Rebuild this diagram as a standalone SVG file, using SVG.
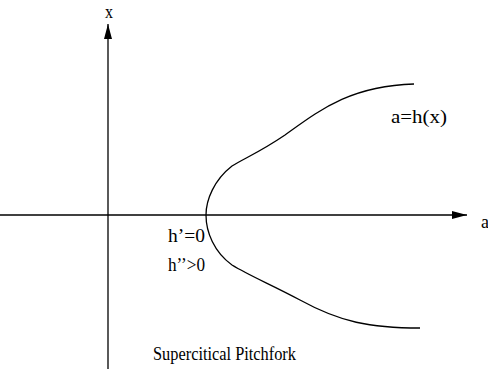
<svg xmlns="http://www.w3.org/2000/svg" width="488" height="369" viewBox="0 0 488 369">
<style>
text{font-family:"Liberation Serif","Times New Roman",serif;font-size:18px;fill:#000}
.ln{stroke:#000;stroke-width:1.3;fill:none}
</style>
<defs>
<marker id="ah" markerWidth="15" markerHeight="8" refX="15" refY="4" orient="auto" markerUnits="userSpaceOnUse">
<path d="M0,0 L15,4 L0,8 Z" fill="#000"/>
</marker>
</defs>
<g id="connectors">
<line class="ln" x1="0" y1="215" x2="467" y2="215" marker-end="url(#ah)"/>
<line class="ln" x1="108" y1="369" x2="108" y2="24" marker-end="url(#ah)"/>
</g>
<g id="curve">
<path class="ln" stroke-width="1.5" d="M414,84 C350,86 320,110 285,135 C260,152 245,158 232,166 C214,180 206,200 206,215 C206,232 214,252 232,265 C250,276 270,284 300,300 C340,322 370,328 420,328"/>
</g>
<g id="labels">
<text x="105" y="18" textLength="8" lengthAdjust="spacingAndGlyphs">x</text>
<text x="481" y="228" textLength="8" lengthAdjust="spacingAndGlyphs">a</text>
<text x="391" y="123" textLength="56" lengthAdjust="spacingAndGlyphs">a=h(x)</text>
<text x="168" y="242" textLength="37" lengthAdjust="spacingAndGlyphs">h’=0</text>
<text x="168" y="271" textLength="37" lengthAdjust="spacingAndGlyphs">h’’&gt;0</text>
<text x="153" y="360" textLength="143" lengthAdjust="spacingAndGlyphs">Supercitical Pitchfork</text>
</g>
</svg>
